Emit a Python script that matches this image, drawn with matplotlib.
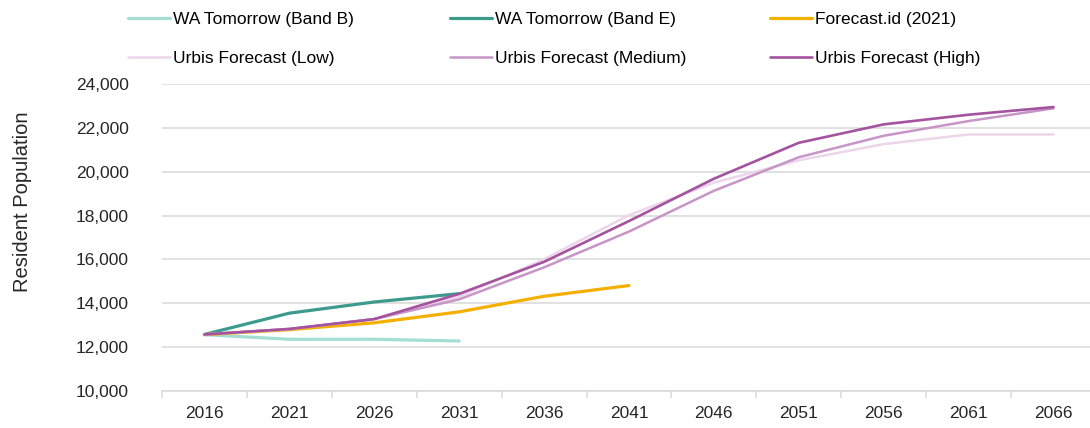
import numpy as np
import matplotlib
matplotlib.use("Agg")
import matplotlib.pyplot as plt
from matplotlib.ticker import FuncFormatter

plt.rcParams['font.family'] = ['Liberation Sans', 'DejaVu Sans']

years = ['2016', '2021', '2026', '2031', '2036', '2041', '2046', '2051', '2056', '2061', '2066']

wa_band_b = [12570, 12360, 12360, 12280]
wa_band_e = [12580, 13550, 14060, 14440]
forecast_id = [12570, 12800, 13110, 13610, 14320, 14810]
urbis_low = [12580, 12830, 13280, 14300, 16010, 18020, 19500, 20520, 21260, 21700, 21700]
urbis_medium = [12580, 12830, 13280, 14180, 15640, 17270, 19130, 20660, 21640, 22310, 22890]
urbis_high = [12580, 12830, 13280, 14430, 15890, 17750, 19680, 21320, 22160, 22600, 22950]

series = [
    ('WA Tomorrow (Band B)', wa_band_b, '#a3ddd3', 2.3),
    ('WA Tomorrow (Band E)', wa_band_e, '#3c9b8c', 2.3),
    ('Forecast.id (2021)', forecast_id, '#f4b000', 2.3),
    ('Urbis Forecast (Low)', urbis_low, '#ecd6ea', 1.8),
    ('Urbis Forecast (Medium)', urbis_medium, '#c795c7', 1.8),
    ('Urbis Forecast (High)', urbis_high, '#a4539f', 1.9),
]

fig = plt.figure(figsize=(10.9, 4.28), dpi=100)
ax = fig.add_axes([0.1486, 0.0864, 0.8514, 0.7173])

handles = []
for name, vals, color, lw in series:
    x = np.arange(len(vals))
    ln, = ax.plot(x, vals, color=color, lw=lw, label=name, solid_capstyle='round', zorder=3)
    handles.append(ln)

ax.set_ylim(10000, 24000)
ax.set_yticks(range(10000, 24001, 2000))
ax.yaxis.set_major_formatter(FuncFormatter(lambda v, p: f'{int(v):,}'))
ax.set_xlim(-0.5, 10.43)
ax.set_xticks(np.arange(-0.5, 10.5, 1), minor=True)
ax.set_xticks(np.arange(len(years)))
ax.set_xticklabels(years)

ax.grid(axis='y', color='#d9d9d9', lw=1.1, zorder=0)
for s in ['top', 'right', 'left']:
    ax.spines[s].set_visible(False)
ax.spines['bottom'].set_color('#d9d9d9')
ax.spines['bottom'].set_linewidth(1.1)
ax.tick_params(axis='y', length=0, pad=24, labelsize=12.5, labelcolor='#262626')
ax.tick_params(axis='x', which='major', length=0, pad=11, labelsize=12.5, labelcolor='#262626')
ax.tick_params(axis='x', which='minor', length=5, width=1.1, color='#d9d9d9')

fig.text(23 / 1090, 1 - 202 / 428, 'Resident Population', rotation=90,
         ha='center', va='center', fontsize=14.5, color='#262626')

# legend: three columns of two entries, evenly spaced like the original
col_x = [128, 450, 770]
for i, cx in enumerate(col_x):
    fig.legend([handles[i], handles[i + 3]], [series[i][0], series[i + 3][0]],
               loc='upper left', bbox_to_anchor=(cx / 1090, 1 - 12 / 428),
               frameon=False, fontsize=12.5, handlelength=2.4, handletextpad=0.2,
               borderpad=0, borderaxespad=0, labelspacing=1.35)

fig.savefig('out.png', dpi=100)
